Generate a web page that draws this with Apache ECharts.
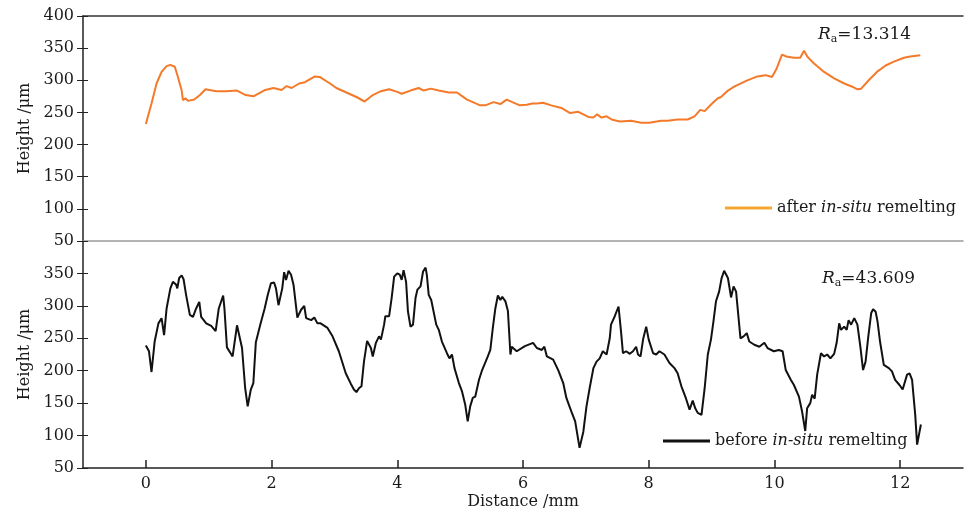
<!DOCTYPE html>
<html>
<head>
    <meta charset="utf-8">
    <title>Height profile</title>
    <script src="https://cdn.jsdelivr.net/npm/echarts@6/dist/echarts.min.js"></script>
    <style>
        html, body { margin: 0; padding: 0; background: #fff; }
        #chart { width: 964px; height: 514px; }
    </style>
</head>
<body>
    <div id="chart"></div>
    <script type="text/javascript">
        // x tick labels (distance, mm)
        var xTicks = [0, 2, 4, 6, 8, 10, 12];

        // after in-situ remelting
        var afterX = [0, 0.09, 0.17, 0.25, 0.33, 0.39, 0.46, 0.51, 0.57, 0.59, 0.63, 0.67, 0.77, 0.86, 0.95, 1.12, 1.28, 1.45, 1.59,
            1.71, 1.90, 2.03, 2.16, 2.24, 2.32, 2.44, 2.53, 2.69, 2.77, 2.93, 3.03, 3.19, 3.35, 3.48, 3.61, 3.74,
            3.87, 4.00, 4.07, 4.21, 4.34, 4.42, 4.53, 4.66, 4.82, 4.95, 5.11, 5.32, 5.40, 5.53, 5.64, 5.74, 5.83,
            5.95, 6.06, 6.15, 6.22, 6.32, 6.45, 6.61, 6.75, 6.88, 7.04, 7.12, 7.18, 7.25, 7.33, 7.41, 7.54, 7.72,
            7.88, 8.01, 8.20, 8.30, 8.46, 8.62, 8.73, 8.82, 8.89, 9.00, 9.10, 9.15, 9.26, 9.36, 9.55, 9.73, 9.86,
            9.96, 10.03, 10.12, 10.19, 10.31, 10.41, 10.47, 10.53, 10.63, 10.79, 10.95, 11.11, 11.24, 11.32, 11.38,
            11.50, 11.63, 11.77, 11.90, 12.06, 12.16, 12.32];
        var afterY = [232, 264, 295, 313, 322, 324, 321, 305, 284, 269, 272, 268, 270, 277, 286, 283, 283, 284, 277,
            275, 285, 288, 285, 291, 288, 295, 297, 306, 305, 295, 288, 281, 274, 267, 277, 283,
            286, 282, 279, 284, 288, 284, 287, 284, 281, 281, 270, 261, 261, 266, 263, 270, 266,
            261, 262, 264, 264, 265, 261, 257, 249, 251, 243, 242, 247, 242, 244, 239, 236, 237,
            234, 234, 237, 237, 239, 239, 244, 254, 252, 263, 272, 274, 284, 290, 299, 306, 308,
            305, 317, 340, 337, 335, 335, 346, 336, 326, 313, 303, 295, 290, 286, 287,
            300, 313, 323, 329, 335, 337, 339];

        // before in-situ remelting
        var beforeX = [0, 0.05, 0.09, 0.14, 0.20, 0.25, 0.29, 0.33, 0.39, 0.43, 0.48, 0.50, 0.53, 0.57, 0.60, 0.64, 0.70,
            0.75, 0.80, 0.85, 0.88, 0.96, 1.04, 1.11, 1.16, 1.23, 1.25, 1.29, 1.38, 1.45, 1.48, 1.53, 1.58, 1.62,
            1.67, 1.71, 1.75, 1.82, 1.89, 1.94, 1.99, 2.04, 2.07, 2.11, 2.17, 2.20, 2.23, 2.27, 2.31, 2.35, 2.41,
            2.47, 2.52, 2.55, 2.63, 2.68, 2.73, 2.78, 2.89, 2.97, 3.07, 3.18, 3.26, 3.31, 3.35, 3.39, 3.43, 3.47,
            3.52, 3.58, 3.61, 3.66, 3.71, 3.74, 3.79, 3.81, 3.87, 3.91, 3.95, 4.00, 4.04, 4.07, 4.10, 4.14, 4.17,
            4.21, 4.25, 4.29, 4.32, 4.37, 4.41, 4.45, 4.47, 4.50, 4.54, 4.62, 4.66, 4.71, 4.79, 4.83, 4.87, 4.91,
            4.98, 5.03, 5.08, 5.12, 5.16, 5.20, 5.24, 5.30, 5.35, 5.37, 5.44, 5.48, 5.52, 5.56, 5.60, 5.64, 5.67,
            5.72, 5.76, 5.80, 5.82, 5.90, 6.03, 6.16, 6.22, 6.30, 6.34, 6.38, 6.48, 6.56, 6.64, 6.69, 6.77, 6.83,
            6.90, 6.96, 7.01, 7.06, 7.12, 7.17, 7.22, 7.27, 7.33, 7.38, 7.40, 7.46, 7.52, 7.56, 7.59, 7.64, 7.70,
            7.75, 7.80, 7.83, 7.87, 7.91, 7.96, 8.00, 8.07, 8.12, 8.17, 8.25, 8.33, 8.41, 8.46, 8.52, 8.59, 8.65,
            8.70, 8.74, 8.78, 8.84, 8.89, 8.94, 8.99, 9.03, 9.07, 9.12, 9.16, 9.20, 9.26, 9.31, 9.35, 9.39, 9.46,
            9.51, 9.56, 9.60, 9.68, 9.76, 9.84, 9.89, 9.99, 10.07, 10.13, 10.18, 10.26, 10.31, 10.39, 10.44, 10.49,
            10.52, 10.57, 10.60, 10.64, 10.68, 10.74, 10.79, 10.84, 10.89, 10.95, 10.99, 11.03, 11.06, 11.11, 11.15,
            11.18, 11.22, 11.27, 11.32, 11.37, 11.41, 11.45, 11.49, 11.54, 11.57, 11.61, 11.64, 11.68, 11.74, 11.82,
            11.87, 11.92, 11.99, 12.04, 12.11, 12.15, 12.19, 12.24, 12.27, 12.33];
        var beforeY = [239, 230, 198, 245, 273, 281, 255, 296, 327, 337, 333, 327, 343, 347, 341, 317, 286,
            283, 296, 306, 283, 273, 269, 261, 296, 316, 296, 236, 222, 270, 268, 235, 173, 145,
            171, 181, 244, 271, 296, 317, 335, 336, 327, 301, 327, 352, 340, 354, 348, 332, 282,
            294, 300, 281, 278, 282, 273, 273, 266, 253, 230, 196, 180, 171, 167, 173, 176, 214,
            246, 235, 222, 243, 253, 248, 271, 284, 284, 312, 345, 350, 348, 340, 355, 337, 291,
            268, 271, 312, 325, 330, 353, 359, 348, 317, 309, 271, 263, 245, 227, 219, 225, 204,
            181, 168, 148, 122, 145, 158, 160, 186, 201, 201, 222, 232, 266, 296, 316, 309, 314,
            307, 292, 225, 237, 230, 238, 243, 235, 232, 237, 222, 217, 201, 181, 158, 137, 122,
            81, 106, 145, 173, 204, 214, 219, 230, 225, 250, 271, 284, 299, 260, 227, 230, 226,
            230, 237, 225, 222, 248, 268, 248, 227, 225, 230, 225, 212, 204, 196, 176, 158, 140,
            154, 142, 135, 132, 173, 225, 248, 276, 307, 322, 343, 354, 343, 313, 330, 322, 250,
            253, 258, 245, 240, 237, 243, 235, 230, 232, 230, 201, 186, 178, 160, 137, 107,
            142, 150, 163, 157, 194, 227, 222, 225, 219, 226, 243, 273, 263, 268, 263,
            278, 271, 281, 271, 235, 201, 214, 250, 289, 295, 291, 276, 245, 209, 204,
            199, 186, 178, 171, 194, 196, 186, 132, 86, 117];

        function zip(xs, ys) {
            var out = [];
            for (var i = 0; i < xs.length; i++) {
                out.push([xs[i], ys[i]]);
            }
            return out;
        }

        var serif = 'DejaVu Serif';
        var ink = '#1a1a1a';

        var chart = echarts.init(document.getElementById('chart'));

        var yLabel = { fontFamily: serif, fontSize: 16, color: ink, margin: 9 };
        var yName = { fontFamily: serif, fontSize: 16, color: ink };

        // R_a label: italic R, subscript a
        var raRich = {
            r: { fontFamily: serif, fontStyle: 'italic', fontWeight: 'normal', fontSize: 17, color: ink },
            s: { fontFamily: serif, fontWeight: 'normal', fontSize: 11, color: ink, padding: [10, 0, 0, 0] },
            n: { fontFamily: serif, fontWeight: 'normal', fontSize: 17, color: ink }
        };

        var option = {
            animation: false,
            backgroundColor: '#fff',
            title: [
                {
                    text: '{r|R}{s|a}{n|=13.314}',
                    left: 818, top: 24, padding: 0,
                    textStyle: { fontWeight: 'normal', rich: raRich }
                },
                {
                    text: '{r|R}{s|a}{n|=43.609}',
                    left: 822, top: 268, padding: 0,
                    textStyle: { fontWeight: 'normal', rich: raRich }
                }
            ],
            legend: [
                {
                    left: 725, top: 200, padding: 0,
                    icon: 'rect', itemWidth: 47, itemHeight: 3,
                    data: [{ name: 'after', itemStyle: { color: '#f5a733' } }],
                    formatter: function () { return 'after {i|in-situ} remelting'; },
                    textStyle: {
                        fontFamily: serif, fontSize: 16, color: ink,
                        rich: { i: { fontFamily: serif, fontStyle: 'italic', fontSize: 16, color: ink } }
                    }
                },
                {
                    left: 663, top: 433, padding: 0,
                    icon: 'rect', itemWidth: 47, itemHeight: 3,
                    data: [{ name: 'before', itemStyle: { color: '#111' } }],
                    formatter: function () { return 'before {i|in-situ} remelting'; },
                    textStyle: {
                        fontFamily: serif, fontSize: 16, color: ink,
                        rich: { i: { fontFamily: serif, fontStyle: 'italic', fontSize: 16, color: ink } }
                    }
                }
            ],
            grid: [
                { left: 83, top: 16, width: 880, height: 225 },
                { left: 83, top: 241, width: 880, height: 227 }
            ],
            xAxis: [
                {
                    gridIndex: 0, type: 'value', min: -1, max: 13, position: 'bottom',
                    axisLine: { onZero: false, lineStyle: { color: '#9a9a9a', width: 1.5 } },
                    axisTick: { show: false }, axisLabel: { show: false }, splitLine: { show: false }
                },
                {
                    gridIndex: 0, type: 'value', min: -1, max: 13, position: 'top',
                    axisLine: { onZero: false, lineStyle: { color: '#333', width: 1.5 } },
                    axisTick: { show: false }, axisLabel: { show: false }, splitLine: { show: false }
                },
                {
                    gridIndex: 1, type: 'value', min: -1, max: 13, position: 'bottom',
                    axisLine: { onZero: false, lineStyle: { color: '#222', width: 1.5 } },
                    axisTick: { show: true, inside: true, length: 8, customValues: xTicks, lineStyle: { color: '#222', width: 1.5 } },
                    axisLabel: { customValues: xTicks, fontFamily: serif, fontSize: 16, color: ink, margin: 8 },
                    splitLine: { show: false },
                    name: 'Distance /mm', nameLocation: 'middle', nameGap: 26,
                    nameTextStyle: { fontFamily: serif, fontSize: 16, color: ink }
                }
            ],
            yAxis: [
                {
                    gridIndex: 0, type: 'value', min: 50, max: 400, interval: 50, position: 'left',
                    axisLine: { show: true, onZero: false, lineStyle: { color: '#222', width: 1.5 } },
                    axisTick: { show: true, length: 6, lineStyle: { color: '#222' } },
                    axisLabel: yLabel, splitLine: { show: false },
                    name: 'Height /μm', nameLocation: 'middle', nameGap: 46, nameTextStyle: yName
                },
                {
                    gridIndex: 0, type: 'value', min: 50, max: 400, interval: 50, position: 'left',
                    axisLine: { show: false, onZero: false },
                    axisTick: { show: true, inside: true, length: 5, lineStyle: { color: '#222' } },
                    axisLabel: { show: false }, splitLine: { show: false }
                },
                {
                    gridIndex: 1, type: 'value', min: 50, max: 400, interval: 50, position: 'left',
                    axisLine: { show: true, onZero: false, lineStyle: { color: '#222', width: 1.5 } },
                    axisTick: { show: true, length: 6, lineStyle: { color: '#222' } },
                    axisLabel: {
                        fontFamily: serif, fontSize: 16, color: ink, margin: 9,
                        formatter: function (v) { return v === 400 ? '' : v; }
                    },
                    splitLine: { show: false },
                    name: 'Height /μm', nameLocation: 'middle', nameGap: 46, nameTextStyle: yName
                },
                {
                    gridIndex: 1, type: 'value', min: 50, max: 400, interval: 50, position: 'left',
                    axisLine: { show: false, onZero: false },
                    axisTick: { show: true, inside: true, length: 5, lineStyle: { color: '#222' } },
                    axisLabel: { show: false }, splitLine: { show: false }
                }
            ],
            series: [
                {
                    name: 'after', type: 'line', xAxisIndex: 0, yAxisIndex: 0,
                    data: zip(afterX, afterY),
                    symbol: 'none', color: '#f47a2a',
                    lineStyle: { width: 2, color: '#f47a2a' }
                },
                {
                    name: 'before', type: 'line', xAxisIndex: 2, yAxisIndex: 2,
                    data: zip(beforeX, beforeY),
                    symbol: 'none', color: '#111',
                    lineStyle: { width: 2, color: '#111' }
                }
            ]
        };

        chart.setOption(option);
    </script>
</body>
</html>
